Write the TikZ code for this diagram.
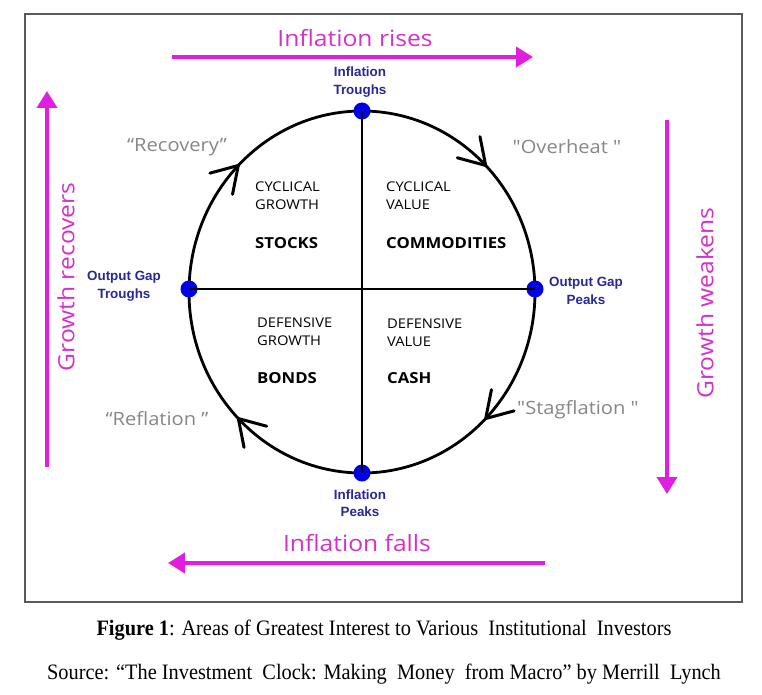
\documentclass[tikz,border=0pt]{standalone}
\usepackage{fontspec}
\setmainfont{Liberation Serif}[FakeStretch=0.925]
\newfontfamily\comic{Open Sans}[FakeStretch=1.1]
\newfontfamily\blab{Liberation Sans}
\usetikzlibrary{arrows.meta,decorations.markings}
\definecolor{mag}{RGB}{224,30,224}
\definecolor{magtxt}{RGB}{210,50,200}
\definecolor{dotblue}{RGB}{0,0,230}
\definecolor{labblue}{RGB}{40,40,150}
\definecolor{qgray}{RGB}{135,135,135}
\definecolor{framegray}{RGB}{90,90,90}
\begin{document}
\begin{tikzpicture}[x=1pt,y=-1pt,
  frame/.style={draw=framegray,line width=1.3pt},
  circ/.style={line width=2.8pt,black},
  cross/.style={line width=2.6pt,black},
  dot/.style={circle,fill=dotblue,minimum size=17pt,inner sep=0pt},
  bigarrow/.style={draw=mag,line width=4pt,-{Triangle[length=17pt,width=20pt]}},
  magtext/.style={text=magtxt,font=\comic\fontsize{22.4}{24}\selectfont},
  quote/.style={text=qgray,font=\comic\fontsize{18.3}{20}\selectfont},
  quad/.style={font=\comic\fontsize{13.4}{18}\selectfont,align=left,anchor=north west,inner sep=0pt},
  asset/.style={font=\comic\bfseries\fontsize{15.2}{17}\selectfont,anchor=west,inner sep=0pt},
  blue/.style={text=labblue,font=\blab\bfseries\fontsize{13.4}{17.5}\selectfont,align=center},
  capt/.style={font=\fontsize{22}{24}\selectfont},
  barbmark/.style={line width=3pt,line cap=round,line join=round}
]
\useasboundingbox (0,0) rectangle (762,695);
\fill[white] (0,0) rectangle (762,695);
\draw[frame] (25,14) rectangle (742,602);

% circle with clockwise open arrowheads
\draw[circ,postaction={decorate},decoration={markings,
  mark=at position 0.125 with {\draw[barbmark] (25,15.5) -- (0,0) -- (25,-15.5);},
  mark=at position 0.375 with {\draw[barbmark] (25,15.5) -- (0,0) -- (25,-15.5);},
  mark=at position 0.625 with {\draw[barbmark] (25,15.5) -- (0,0) -- (25,-15.5);},
  mark=at position 0.875 with {\draw[barbmark] (25,15.5) -- (0,0) -- (25,-15.5);}}]
  (362,292) ellipse [x radius=173pt, y radius=181pt];

\node[dot] (T) at (362,111) {};
\node[dot] (B) at (362,473) {};
\node[dot] (L) at (189,289) {};
\node[dot] (R) at (535,289) {};
\draw[cross] (T.center) -- (B.center);
\draw[cross] (L.center) -- (R.center);

% big magenta arrows
\coordinate (t1) at (172,57); \coordinate (t2) at (533,57);
\coordinate (b1) at (545,563); \coordinate (b2) at (168,563);
\coordinate (l1) at (47,467); \coordinate (l2) at (47,91);
\coordinate (r1) at (667,120); \coordinate (r2) at (667,494);
\draw[bigarrow] (t1) -- (t2);
\draw[bigarrow] (b1) -- (b2);
\draw[bigarrow] (l1) -- (l2);
\draw[bigarrow] (r1) -- (r2);

\node[magtext] (rise) at (355,38) {Inflation rises};
\node[magtext] (fall) at (357,543) {Inflation falls};
\node[magtext,rotate=90] (grec) at (66,277) {Growth recovers};
\node[magtext,rotate=90] (gwk) at (705,303) {Growth weakens};

% blue labels
\node[blue] (lt) at (360,82) {Inflation\\Troughs};
\node[blue] (lb) at (360,503) {Inflation\\Peaks};
\node[blue] (ll) at (124,286) {Output Gap\\Troughs};
\node[blue] (lr) at (586,291) {Output Gap\\Peaks};

% quotes
\node[quote] (q1) at (177,147) {“Recovery”};
\node[quote] (q2) at (567,147) {"Overheat "};
\node[quote] (q3) at (157,419) {“Reflation ”};
\node[quote] (q4) at (578,410) {"Stagflation "};

% quadrants
\node[quad] (c1) at (255,182) {CYCLICAL\\GROWTH};
\node[asset] (a1) at (255,243) {STOCKS};
\node[quad] (c2) at (386,182) {CYCLICAL\\VALUE};
\node[asset] (a2) at (386,243) {COMMODITIES};
\node[quad] (c3) at (257,318) {DEFENSIVE\\GROWTH};
\node[asset] (a3) at (257,378) {BONDS};
\node[quad] (c4) at (387,319) {DEFENSIVE\\VALUE};
\node[asset] (a4) at (387,378) {CASH};

% caption
\node[capt] (cap1) at (384,630) {\textbf{Figure 1}: Areas of Greatest Interest to Various\ \ Institutional\ \ Investors};
\node[capt] (cap2) at (384,674) {Source: “The Investment\ \ Clock: Making\ \ Money\ \ from Macro” by Merrill\ \ Lynch};
\end{tikzpicture}
\end{document}
